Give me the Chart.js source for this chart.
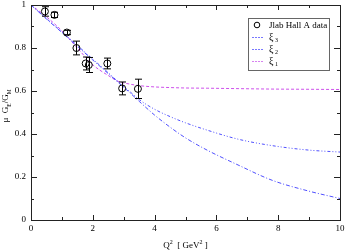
<!DOCTYPE html>
<html>
<head>
<meta charset="utf-8">
<script src="https://cdn.jsdelivr.net/npm/chart.js@4.4.0/dist/chart.umd.min.js"></script>
<style>
html,body{margin:0;padding:0;background:#fff;}
</style>
</head>
<body>
<canvas id="c" width="346" height="252"></canvas>
<script>
// Jlab Hall A data points
var dataQ2  = [0.45, 0.76, 1.16, 1.47, 1.77, 1.87, 2.47, 2.95, 3.46];
var dataR   = [0.970, 0.954, 0.872, 0.800, 0.728, 0.721, 0.728, 0.612, 0.610];
var dataErr = [0.022, 0.012, 0.010, 0.032, 0.030, 0.035, 0.025, 0.030, 0.045];

// model curves, shared Q2 grid
var curveQ2 = [0, 0.5, 1, 1.5, 2, 2.5, 2.82, 3.2, 3.5, 4, 4.5, 5, 5.7, 6.7, 7.8, 9, 10];
var xi3 = [1, 0.935, 0.872, 0.808, 0.744, 0.681, 0.640, 0.592, 0.552, 0.488, 0.432, 0.382, 0.325, 0.256, 0.185, 0.134, 0.100];
var xi2 = [1, 0.937, 0.875, 0.812, 0.748, 0.685, 0.643, 0.597, 0.560, 0.515, 0.481, 0.452, 0.418, 0.376, 0.346, 0.325, 0.316];
var xi1 = [1, 0.945, 0.880, 0.800, 0.722, 0.672, 0.645, 0.632, 0.625, 0.619, 0.616, 0.614, 0.613, 0.611, 0.609, 0.608, 0.607];

var xTicks = [0, 2, 4, 6, 8, 10];
var yTicks = [0, 0.2, 0.4, 0.6, 0.8, 1];

var serif = "'Liberation Serif', 'DejaVu Serif', serif";
var blue = 'rgb(80,80,255)';
var magenta = 'rgb(205,80,235)';

function pts(xs, ys){
  var out = [];
  for (var i = 0; i < xs.length; i++){ out.push({x: xs[i], y: ys[i]}); }
  return out;
}

var data = {
  datasets: [{
    label: 'Jlab Hall A data',
    data: pts(dataQ2, dataR),
    showLine: false,
    pointStyle: 'circle',
    pointRadius: 3.5,
    pointBorderWidth: 1,
    pointBorderColor: '#000',
    pointBackgroundColor: 'rgba(0,0,0,0)',
    order: 0
  },{
    label: '3',
    data: pts(curveQ2, xi3),
    showLine: true,
    borderColor: blue,
    borderWidth: 1,
    borderDash: [4, 2, 1, 2],
    pointRadius: 0,
    cubicInterpolationMode: 'monotone',
    order: 1
  },{
    label: '2',
    data: pts(curveQ2, xi2),
    showLine: true,
    borderColor: blue,
    borderWidth: 1,
    borderDash: [3, 2, 1, 2, 1, 2],
    pointRadius: 0,
    cubicInterpolationMode: 'monotone',
    order: 2
  },{
    label: '1',
    data: pts(curveQ2, xi1),
    showLine: true,
    borderColor: magenta,
    borderWidth: 1,
    borderDash: [3, 2],
    pointRadius: 0,
    cubicInterpolationMode: 'monotone',
    order: 3
  }]
};
var legendColors = [null, 'rgb(120,120,255)', 'rgb(120,120,255)', 'rgb(215,130,240)'];

// frame, inward ticks, error bars, titles and legend
var decor = {
  id: 'decor',
  afterDatasetsDraw: function(chart){
    var ctx = chart.ctx, xs = chart.scales.x, ys = chart.scales.y;
    ctx.save();
    ctx.strokeStyle = '#000';
    ctx.lineWidth = 1;
    for (var i = 0; i < dataQ2.length; i++){
      var px = Math.round(xs.getPixelForValue(dataQ2[i])) + 0.5;
      var y1 = ys.getPixelForValue(dataR[i] - dataErr[i]);
      var y2 = ys.getPixelForValue(dataR[i] + dataErr[i]);
      ctx.beginPath();
      ctx.moveTo(px, y1); ctx.lineTo(px, y2);
      ctx.moveTo(px - 3.5, y1); ctx.lineTo(px + 3.5, y1);
      ctx.moveTo(px - 3.5, y2); ctx.lineTo(px + 3.5, y2);
      ctx.stroke();
    }
    ctx.restore();
  },
  afterDraw: function(chart){
    var ctx = chart.ctx, a = chart.chartArea, xs = chart.scales.x, ys = chart.scales.y;
    var v, p, big;
    ctx.save();
    ctx.strokeStyle = '#222';
    ctx.lineWidth = 1;
    ctx.strokeRect(Math.round(a.left) + 0.5, Math.round(a.top) + 0.5,
                   Math.round(a.right - a.left), Math.round(a.bottom - a.top));
    ctx.beginPath();
    for (v = 0; v <= 10; v++){
      p = Math.round(xs.getPixelForValue(v)) + 0.5;
      big = (v % 2 === 0) ? 5 : 3;
      ctx.moveTo(p, a.bottom); ctx.lineTo(p, a.bottom - big);
      ctx.moveTo(p, a.top); ctx.lineTo(p, a.top + big);
    }
    for (v = 0; v <= 10; v++){
      p = Math.round(ys.getPixelForValue(v / 10)) + 0.5;
      big = (v % 2 === 0) ? 6 : 3;
      ctx.moveTo(a.left, p); ctx.lineTo(a.left + big, p);
      ctx.moveTo(a.right, p); ctx.lineTo(a.right - big, p);
    }
    ctx.stroke();

    // x title: Q^2 [ GeV^2 ]
    ctx.fillStyle = '#000';
    ctx.textBaseline = 'alphabetic';
    var parts = [['Q', 9, 0], ['2', 6, -4], ['  [ GeV', 9, 0], ['2', 6, -4], [' ]', 9, 0]];
    var w = 0, k;
    for (k = 0; k < parts.length; k++){ ctx.font = parts[k][1] + 'px ' + serif; w += ctx.measureText(parts[k][0]).width; }
    var cx = (a.left + a.right) / 2 - w / 2;
    for (k = 0; k < parts.length; k++){
      ctx.font = parts[k][1] + 'px ' + serif;
      ctx.fillText(parts[k][0], cx, 248 + parts[k][2]);
      cx += ctx.measureText(parts[k][0]).width;
    }

    // y title: mu G_E/G_M, rotated
    ctx.save();
    ctx.translate(8, 106);
    ctx.rotate(-Math.PI / 2);
    var yp = [['\u03bc  G', 9, 0], ['E', 5.5, 2.5], ['/G', 9, 0], ['M', 5.5, 2.5]];
    w = 0;
    for (k = 0; k < yp.length; k++){ ctx.font = yp[k][1] + 'px ' + serif; w += ctx.measureText(yp[k][0]).width; }
    cx = -w / 2;
    for (k = 0; k < yp.length; k++){
      ctx.font = yp[k][1] + 'px ' + serif;
      ctx.fillText(yp[k][0], cx, yp[k][2]);
      cx += ctx.measureText(yp[k][0]).width;
    }
    ctx.restore();

    // legend box
    var lx = 248, ly = 18, lw = 81, lh = 52;
    ctx.fillStyle = '#fff';
    ctx.fillRect(lx, ly, lw, lh);
    ctx.strokeStyle = '#666';
    ctx.lineWidth = 1;
    ctx.strokeRect(lx + 0.5, ly + 0.5, lw, lh);
    var ds = chart.data.datasets;
    for (k = 0; k < ds.length; k++){
      var ry = ly + 7 + k * 12;
      if (k === 0){
        ctx.strokeStyle = '#000';
        ctx.setLineDash([]);
        ctx.beginPath(); ctx.arc(257, ry, 2.8, 0, Math.PI * 2); ctx.stroke();
        ctx.fillStyle = '#000';
        ctx.font = '9px ' + serif;
        ctx.fillText(ds[k].label, 269, ry + 3);
      } else {
        ctx.fillStyle = legendColors[k];
        for (var dx = 252; dx < 264; dx += 3) { ctx.fillRect(dx, ry, 2, 1); }
        ctx.fillStyle = '#000';
        ctx.font = '10px ' + serif;
        ctx.fillText('\u03be', 269, ry + 3);
        var gw = ctx.measureText('\u03be').width;
        ctx.font = '6px ' + serif;
        ctx.fillText(ds[k].label, 269 + gw + 1.5, ry + 5);
      }
    }
    ctx.restore();
  }
};

var options = {
  responsive: false,
  animation: false,
  devicePixelRatio: 1,
  layout: {padding: {top: 4, right: 6, left: 0, bottom: 0}},
  plugins: {legend: {display: false}, tooltip: {enabled: false}, title: {display: false}},
  scales: {
    x: {
      type: 'linear', min: 0, max: 10,
      grid: {display: false, drawTicks: false},
      border: {display: false},
      afterBuildTicks: function(s){ s.ticks = xTicks.map(function(v){ return {value: v}; }); },
      afterFit: function(s){ s.height = 32; s.paddingLeft = 0; s.paddingRight = 0; },
      ticks: {color: '#000', padding: 3, maxRotation: 0, font: {family: serif, size: 9}}
    },
    y: {
      type: 'linear', min: 0, max: 1,
      grid: {display: false, drawTicks: false},
      border: {display: false},
      afterBuildTicks: function(s){ s.ticks = yTicks.map(function(v){ return {value: v}; }); },
      afterFit: function(s){ s.width = 31; s.paddingTop = 0; s.paddingBottom = 0; },
      ticks: {color: '#000', padding: 5, font: {family: serif, size: 9},
        callback: function(v){ return String(Math.round(v * 10) / 10); }}
    }
  }
};

var chart = new Chart(document.getElementById('c').getContext('2d'), {
  type: 'scatter',
  data: data,
  options: options,
  plugins: [decor]
});
</script>
</body>
</html>
